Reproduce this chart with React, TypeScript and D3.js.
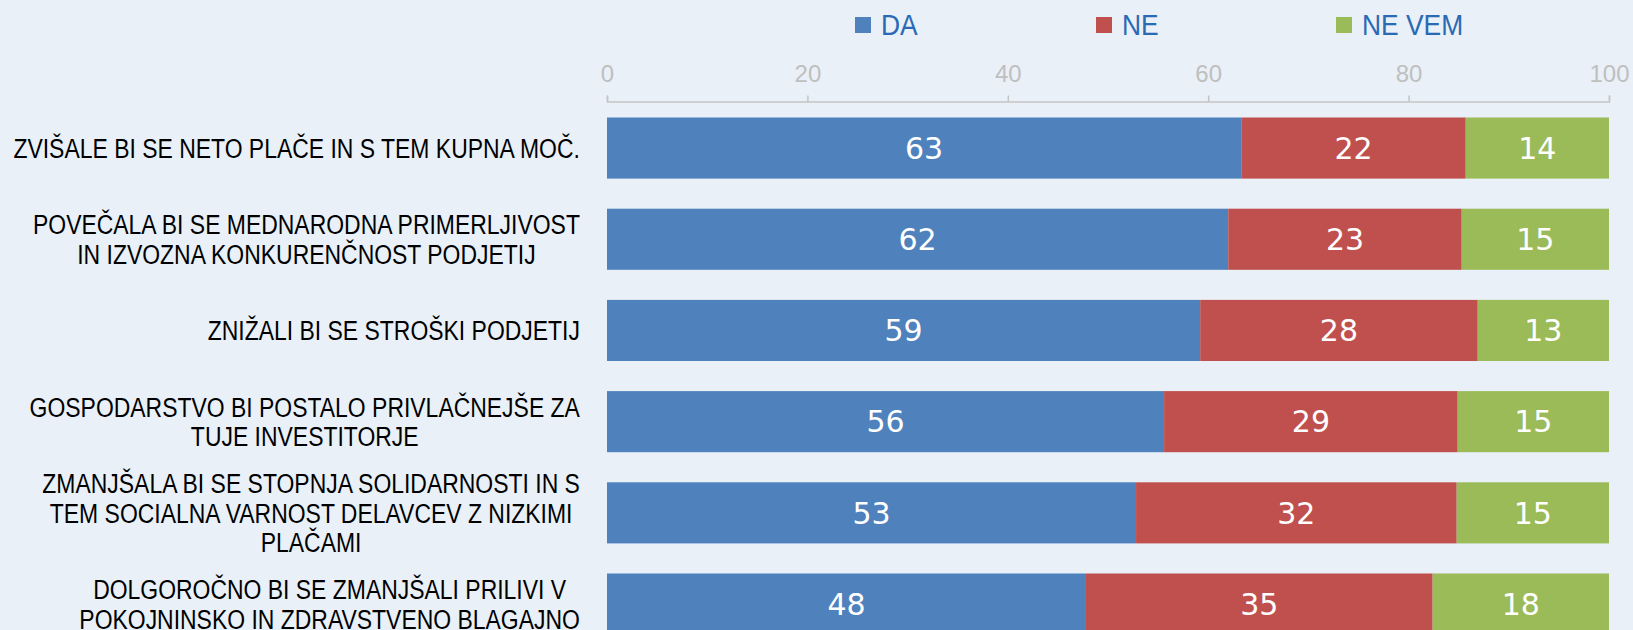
import React, { useEffect, useRef } from "react";
import * as d3 from "d3";

const categories = [
  ["ZVIŠALE BI SE NETO PLAČE IN S TEM KUPNA MOČ."],
  ["POVEČALA BI SE MEDNARODNA PRIMERLJIVOST", "IN IZVOZNA KONKURENČNOST PODJETIJ"],
  ["ZNIŽALI BI SE STROŠKI PODJETIJ"],
  ["GOSPODARSTVO BI POSTALO PRIVLAČNEJŠE ZA", "TUJE INVESTITORJE"],
  ["ZMANJŠALA BI SE STOPNJA SOLIDARNOSTI IN S", "TEM SOCIALNA VARNOST DELAVCEV Z NIZKIMI", "PLAČAMI"],
  ["DOLGOROČNO BI SE ZMANJŠALI PRILIVI V", "POKOJNINSKO IN ZDRAVSTVENO BLAGAJNO"],
];
const seriesNames = ["DA", "NE", "NE VEM"];
const da = [63.3, 62.0, 59.2, 55.6, 52.8, 47.8];
const ne = [22.4, 23.3, 27.7, 29.3, 32.0, 34.6];
const neVem = [14.3, 14.7, 13.1, 15.1, 15.2, 17.6];
const ticks = [0, 20, 40, 60, 80, 100];

const colors = ["#4f81bd", "#c0504d", "#9bbb59"];
const W = 1633;
const H = 630;
const sans = "'Liberation Sans', Arial, sans-serif";

export default function App() {
  const ref = useRef<SVGSVGElement | null>(null);

  useEffect(() => {
    document.body.style.margin = "0";
    const svg = d3.select(ref.current);
    svg.selectAll("*").remove();

    svg.append("rect").attr("width", W).attr("height", H).attr("fill", "#e9f0f8");

    const keys = categories.map((c, i) => String(i));
    const x = d3.scaleLinear().domain([0, 100]).range([607, 1609]);
    const step = 91.2;
    const y = d3.scaleBand()
      .domain(keys)
      .range([102.45, 102.45 + step * keys.length])
      .paddingInner(0.33)
      .paddingOuter(0.165);

    // axis on top
    const axis = svg.append("g")
      .attr("transform", "translate(0,101.5)")
      .call(d3.axisTop(x).tickValues(ticks).tickSize(6).tickPadding(14).tickSizeOuter(6));
    axis.select(".domain").attr("stroke", "#c4c4c4").attr("stroke-width", 1.5);
    axis.selectAll(".tick line").attr("stroke", "#c4c4c4").attr("stroke-width", 1.5);
    axis.selectAll(".tick text")
      .attr("fill", "#bfbfbf")
      .style("font-family", sans)
      .style("font-size", "24px");

    // stacked bars
    const rows = keys.map((k, i) => ({ key: k, DA: da[i], NE: ne[i], "NE VEM": neVem[i] }));
    const stack = d3.stack<any>().keys(seriesNames)(rows);

    stack.forEach((layer, si) => {
      const g = svg.append("g");
      g.selectAll("rect")
        .data(layer)
        .enter()
        .append("rect")
        .attr("x", d => x(d[0]))
        .attr("y", d => y(d.data.key)!)
        .attr("width", d => x(d[1]) - x(d[0]))
        .attr("height", y.bandwidth())
        .attr("fill", colors[si]);
      g.selectAll("text")
        .data(layer)
        .enter()
        .append("text")
        .attr("x", d => (x(d[0]) + x(d[1])) / 2)
        .attr("y", d => y(d.data.key)! + y.bandwidth() / 2)
        .attr("dy", "0.36em")
        .attr("text-anchor", "middle")
        .attr("fill", "#fff")
        .style("font-family", "'DejaVu Sans', sans-serif")
        .style("font-size", "30px")
        .text(d => Math.round(d[1] - d[0]));
    });

    // category labels (narrowed sans)
    const rightEdge = 580;
    const lineH = 29.5;
    const sx = 0.85;
    categories.forEach((lines, i) => {
      const cy = y(String(i))! + y.bandwidth() / 2;
      const g = svg.append("g");
      const texts = lines.map((ln) =>
        g.append("text")
          .attr("dy", "0.36em")
          .attr("text-anchor", "middle")
          .attr("fill", "#000")
          .style("font-family", sans)
          .style("font-size", "27px")
          .text(ln)
      );
      const widths = texts.map(t => (t.node() as SVGTextElement).getComputedTextLength() * sx);
      const cx = rightEdge - d3.max(widths)! / 2;
      texts.forEach((t, j) =>
        t.attr("transform", `translate(${cx},${cy + (j - (lines.length - 1) / 2) * lineH}) scale(${sx},1)`)
      );
    });

    // legend
    const legendX = [855, 1096, 1336];
    const lg = svg.append("g").attr("transform", "translate(0,25)");
    seriesNames.forEach((name, i) => {
      lg.append("rect")
        .attr("x", legendX[i])
        .attr("y", -8)
        .attr("width", 16)
        .attr("height", 16)
        .attr("fill", colors[i]);
      lg.append("text")
        .attr("transform", `translate(${legendX[i] + 26},0) scale(0.88,1)`)
        .attr("dy", "0.34em")
        .attr("fill", "#2a6ab5")
        .style("font-family", sans)
        .style("font-size", "30px")
        .text(name);
    });
  }, []);

  return <svg ref={ref} width={W} height={H} style={{ display: "block" }} />;
}
